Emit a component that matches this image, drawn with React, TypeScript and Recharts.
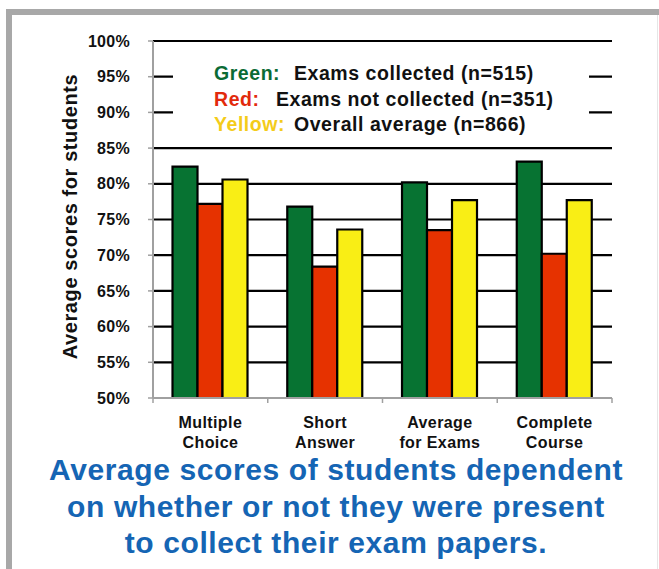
import React from "react";
import {
  BarChart,
  Bar,
  XAxis,
  YAxis,
  CartesianGrid,
  Legend,
} from "recharts";

const categories = [
  "Multiple\nChoice",
  "Short\nAnswer",
  "Average\nfor Exams",
  "Complete\nCourse",
];
const collected = [82.4, 76.8, 80.2, 83.1];
const notCollected = [77.2, 68.4, 73.5, 70.2];
const overall = [80.6, 73.6, 77.7, 77.7];

const yTicks = [50, 55, 60, 65, 70, 75, 80, 85, 90, 95, 100];

const seriesNames = ["Green:", "Red:", "Yellow:"];
const seriesText = [
  "Exams collected (n=515)",
  "Exams not collected (n=351)",
  "Overall average (n=866)",
];
const barColors = ["#077332", "#e63200", "#f9ee15"];
const labelColors = ["#0b6b35", "#e22a0c", "#f4cc1a"];

const titleLines = [
  "Average scores of students dependent",
  "on whether or not they were present",
  "to collect their exam papers.",
];

const data = categories.map((c, i) => ({
  name: c,
  collected: collected[i],
  notCollected: notCollected[i],
  overall: overall[i],
}));

const FONT = "'Liberation Sans', Arial, Helvetica, sans-serif";
const GRAY = "#a0a0a0";

// two-line category label plus the small tick marks at band edges
const CategoryTick = (props: any) => {
  const { x, y, payload, index } = props;
  const half = payload?.offset ?? 57.4;
  const lines = String(payload.value).split("\n");
  return (
    <g>
      <line x1={x - half} y1={y - 8} x2={x - half} y2={y - 3} stroke={GRAY} strokeWidth={1.5} />
      {index === categories.length - 1 && (
        <line x1={x + half} y1={y - 8} x2={x + half} y2={y - 3} stroke={GRAY} strokeWidth={1.5} />
      )}
      {lines.map((l, i) => (
        <text
          key={i}
          x={x}
          y={y + 22 + i * 20}
          textAnchor="middle"
          fontFamily={FONT}
          fontWeight="bold"
          fontSize={16}
          letterSpacing={0.4}
          fill="#111"
        >
          {l}
        </text>
      ))}
    </g>
  );
};

const LegendBox = (props: any) => {
  const payload = props.payload || [];
  return (
    <div
      style={{
        background: "#fff",
        width: "100%",
        height: "100%",
        paddingTop: 11,
        boxSizing: "border-box",
        fontFamily: FONT,
        fontWeight: "bold",
        fontSize: 19.5,
        letterSpacing: 0.55,
        lineHeight: "25.5px",
      }}
    >
      {payload.map((p: any, i: number) => (
        <div key={i} style={{ whiteSpace: "nowrap", paddingLeft: 41 }}>
          <span
            style={{
              color: labelColors[i],
              display: "inline-block",
              width: i === 1 ? 62 : 80,
            }}
          >
            {p.value}
          </span>
          <span style={{ color: "#111" }}>{seriesText[i]}</span>
        </div>
      ))}
    </div>
  );
};

const YLabel = (props: any) => {
  const vb = props.viewBox || { y: 41, height: 357 };
  const cy = vb.y + vb.height / 2 - 3;
  return (
    <text
      x={70}
      y={cy}
      transform={`rotate(-90, 70, ${cy})`}
      textAnchor="middle"
      dominantBaseline="central"
      fontFamily={FONT}
      fontWeight="bold"
      fontSize={20}
      letterSpacing={0.6}
      fill="#111"
    >
      Average scores for students
    </text>
  );
};

export default function App() {
  return (
    <div
      style={{
        position: "absolute",
        left: 0,
        top: 0,
        width: 659,
        height: 569,
        background: "#fff",
        overflow: "hidden",
      }}
    >
      {/* gray frame of the slide */}
      <div style={{ position: "absolute", left: 6, top: 9, width: 653, height: 6, background: "#a8a8a8" }} />
      <div style={{ position: "absolute", left: 6, top: 9, width: 6, height: 560, background: "#a8a8a8" }} />
      <div style={{ position: "absolute", left: 657, top: 15, width: 1, height: 554, background: "#e6e6e6" }} />

      <BarChart
        width={659}
        height={569}
        data={data}
        margin={{ top: 41, right: 47, bottom: 111, left: 0 }}
        barCategoryGap="17%"
        barGap={0}
        style={{ position: "absolute", left: 0, top: 0 }}
      >
        <CartesianGrid vertical={false} stroke="#000" strokeWidth={2.2} />
        <XAxis
          dataKey="name"
          interval={0}
          tickLine={false}
          axisLine={{ stroke: GRAY, strokeWidth: 2 }}
          tick={<CategoryTick />}
          height={60}
        />
        <YAxis
          domain={[50, 100]}
          ticks={yTicks}
          interval={0}
          width={153}
          allowDataOverflow
          tickFormatter={(v: number) => `${v}%`}
          tickSize={5}
          tickMargin={18}
          tickLine={{ stroke: GRAY, strokeWidth: 1.5 }}
          axisLine={{ stroke: GRAY, strokeWidth: 2 }}
          tick={{
            fontFamily: FONT,
            fontWeight: "bold",
            fontSize: 16,
            fill: "#111",
            letterSpacing: 0.3,
          }}
          label={<YLabel />}
        />
        <YAxis
          yAxisId="frame"
          orientation="right"
          width={0}
          domain={[50, 100]}
          tick={false}
          tickLine={false}
          axisLine={{ stroke: GRAY, strokeWidth: 2 }}
        />
        <Legend
          layout="horizontal"
          verticalAlign="middle"
          align="center"
          content={<LegendBox />}
          wrapperStyle={{ position: "absolute", left: 173, top: 50, width: 416, height: 88 }}
        />
        <Bar dataKey="collected" name={seriesNames[0]} fill={barColors[0]} stroke="#000" strokeWidth={2.2} isAnimationActive={false} />
        <Bar dataKey="notCollected" name={seriesNames[1]} fill={barColors[1]} stroke="#000" strokeWidth={2.2} isAnimationActive={false} />
        <Bar dataKey="overall" name={seriesNames[2]} fill={barColors[2]} stroke="#000" strokeWidth={2.2} isAnimationActive={false} />
      </BarChart>

      <div
        style={{
          position: "absolute",
          left: 0,
          top: 452,
          width: 672,
          textAlign: "center",
          color: "#1565b4",
          fontFamily: FONT,
          fontWeight: "bold",
          fontSize: 30,
          letterSpacing: 0.6,
          lineHeight: "36.5px",
        }}
      >
        {titleLines.map((t, i) => (
          <div key={i}>{t}</div>
        ))}
      </div>
    </div>
  );
}
